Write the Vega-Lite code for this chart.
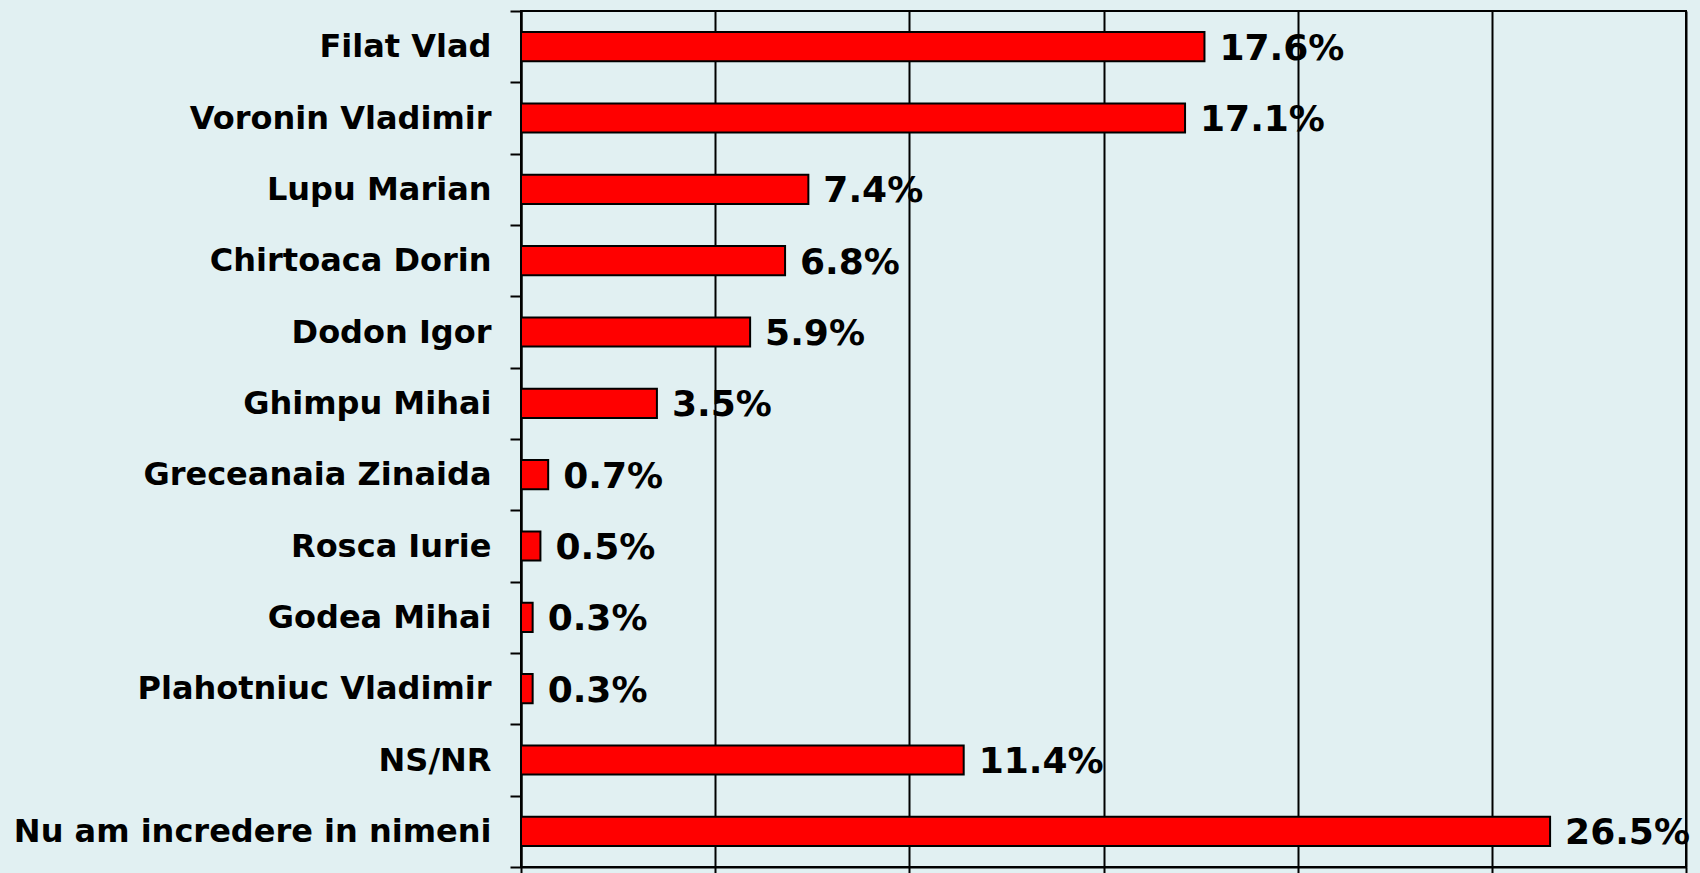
{
  "$schema": "https://vega.github.io/schema/vega-lite/v6.json",
  "autosize": "none",
  "width": 1165,
  "height": 856,
  "padding": {"left": 521, "top": 11, "right": 14, "bottom": 6},
  "background": "#e1f0f2",
  "data": {
    "values": [
      {"name": "Filat Vlad", "value": 0.176},
      {"name": "Voronin Vladimir", "value": 0.171},
      {"name": "Lupu Marian", "value": 0.074},
      {"name": "Chirtoaca Dorin", "value": 0.068},
      {"name": "Dodon Igor", "value": 0.059},
      {"name": "Ghimpu Mihai", "value": 0.035},
      {"name": "Greceanaia Zinaida", "value": 0.007},
      {"name": "Rosca Iurie", "value": 0.005},
      {"name": "Godea Mihai", "value": 0.003},
      {"name": "Plahotniuc Vladimir", "value": 0.003},
      {"name": "NS/NR", "value": 0.114},
      {"name": "Nu am incredere in nimeni", "value": 0.265}
    ]
  },
  "config": {
    "view": {"stroke": "#000000", "strokeWidth": 2, "fill": "#e1f0f2"},
    "font": "DejaVu Sans"
  },
  "encoding": {
    "y": {
      "field": "name",
      "type": "nominal",
      "sort": null,
      "title": null,
      "scale": {"paddingInner": 0, "paddingOuter": 0},
      "axis": {
        "tickBand": "extent",
        "tickSize": 11,
        "tickColor": "#000000",
        "tickWidth": 2,
        "domainColor": "#000000",
        "domainWidth": 2,
        "labelPadding": 19,
        "labelFont": "DejaVu Sans",
        "labelFontWeight": "bold",
        "labelFontSize": 32,
        "labelColor": "#000000",
        "labelLimit": 600,
        "grid": false
      }
    },
    "x": {
      "field": "value",
      "type": "quantitative",
      "title": null,
      "scale": {"domain": [0, 0.3], "nice": false},
      "axis": {
        "values": [0, 0.05, 0.1, 0.15, 0.2, 0.25, 0.3],
        "grid": true,
        "gridColor": "#000000",
        "gridWidth": 2,
        "gridOpacity": 1,
        "labels": false,
        "ticks": true,
        "tickSize": 10,
        "tickColor": "#000000",
        "tickWidth": 2,
        "domain": true,
        "domainColor": "#000000",
        "domainWidth": 2
      }
    }
  },
  "layer": [
    {
      "mark": {"type": "bar", "height": {"band": 0.41}, "fill": "#ff0000", "stroke": "#000000", "strokeWidth": 2}
    },
    {
      "mark": {
        "type": "text",
        "align": "left",
        "baseline": "middle",
        "dx": 15,
        "dy": 2,
        "font": "DejaVu Sans",
        "fontWeight": "bold",
        "fontSize": 36,
        "color": "#000000"
      },
      "encoding": {
        "text": {"field": "value", "type": "quantitative", "format": ".1%"}
      }
    }
  ]
}
